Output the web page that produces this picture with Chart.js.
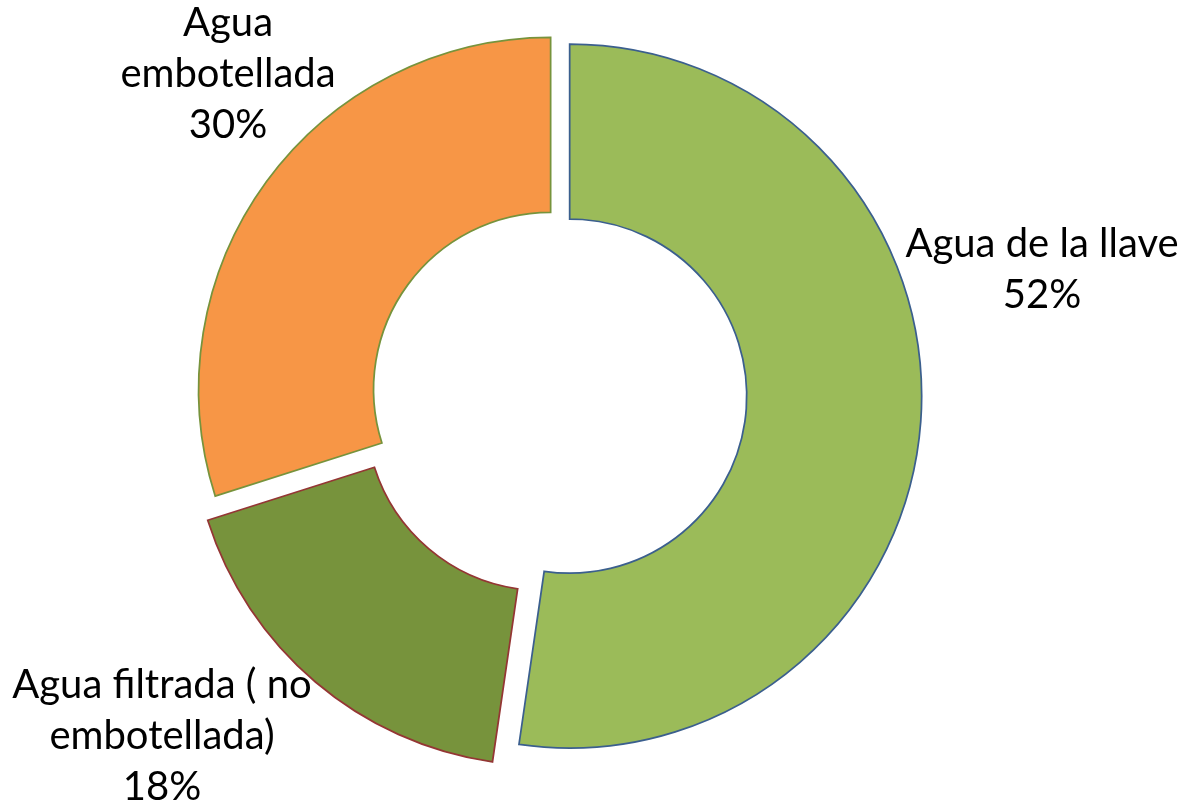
<!DOCTYPE html>
<html>
<head>
<meta charset="utf-8">
<script src="https://cdn.jsdelivr.net/npm/chart.js@4.4.1/dist/chart.umd.min.js"></script>
<style>
  html, body { margin: 0; padding: 0; background: #ffffff; }
  #wrap { width: 1183px; height: 805px; position: relative; }
</style>
</head>
<body>
<div id="wrap"><canvas id="waterChart"></canvas></div>
<script>
// values (slice angles), labels show rounded percents
var categories = ["Agua de la llave", "Agua filtrada ( no embotellada)", "Agua embotellada"];
var shares = [52.3, 17.8, 29.9];
var labelLines = [
    ["Agua de la llave"],
    ["Agua filtrada ( no", "embotellada)"],
    ["Agua", "embotellada"]
];

var fillColors = ["#9BBB59", "#77933C", "#F79646"];
var lineColors = ["#3B5F8E", "#943634", "#77933C"];

// pulls each slice away from the centre along its middle angle
var explodePlugin = {
    id: "explode",
    beforeDatasetsDraw: function (chart, args, opts) {
        var area = chart.chartArea;
        var cx = (area.left + area.right) / 2;
        var cy = (area.top + area.bottom) / 2;
        var meta = chart.getDatasetMeta(0);
        meta.data.forEach(function (arc, i) {
            var mid = (arc.startAngle + arc.endAngle) / 2;
            var d = opts.distance[i] || 0;
            arc.x = cx + Math.cos(mid) * d;
            arc.y = cy + Math.sin(mid) * d;
        });
    }
};

// outside labels: name lines + rounded percent
var outsideLabels = {
    id: "outsideLabels",
    afterDatasetsDraw: function (chart, args, opts) {
        var ctx = chart.ctx;
        var values = chart.data.datasets[0].data;
        var total = values.reduce(function (a, b) { return a + b; }, 0);
        ctx.save();
        ctx.fillStyle = "#000000";
        ctx.font = opts.font;
        ctx.textAlign = "center";
        ctx.textBaseline = "alphabetic";
        values.forEach(function (v, i) {
            var pos = opts.positions[i];
            var lines = labelLines[i].concat([Math.round(v / total * 100) + "%"]);
            lines.forEach(function (line, k) {
                ctx.fillText(line, pos[0], pos[1] + k * opts.lineHeight);
            });
        });
        ctx.restore();
    }
};

new Chart(document.getElementById("waterChart"), {
    type: "doughnut",
    data: {
        labels: categories,
        datasets: [{
            data: shares,
            backgroundColor: fillColors,
            borderColor: lineColors,
            borderWidth: 1.75,
            borderJoinStyle: "miter"
        }]
    },
    options: {
        responsive: true,
        maintainAspectRatio: false,
        animation: false,
        events: [],
        radius: 352,
        cutout: "50.3%",
        layout: {
            padding: { left: 0, right: 65.6, top: 0, bottom: 14.4 }
        },
        plugins: {
            legend: { display: false },
            tooltip: { enabled: false },
            explode: { distance: [11, 24, 10] },
            outsideLabels: {
                font: "40px Lato",
                lineHeight: 51,
                positions: [[1042, 257], [162, 698], [228, 36]]
            }
        }
    },
    plugins: [explodePlugin, outsideLabels]
});
</script>
</body>
</html>
